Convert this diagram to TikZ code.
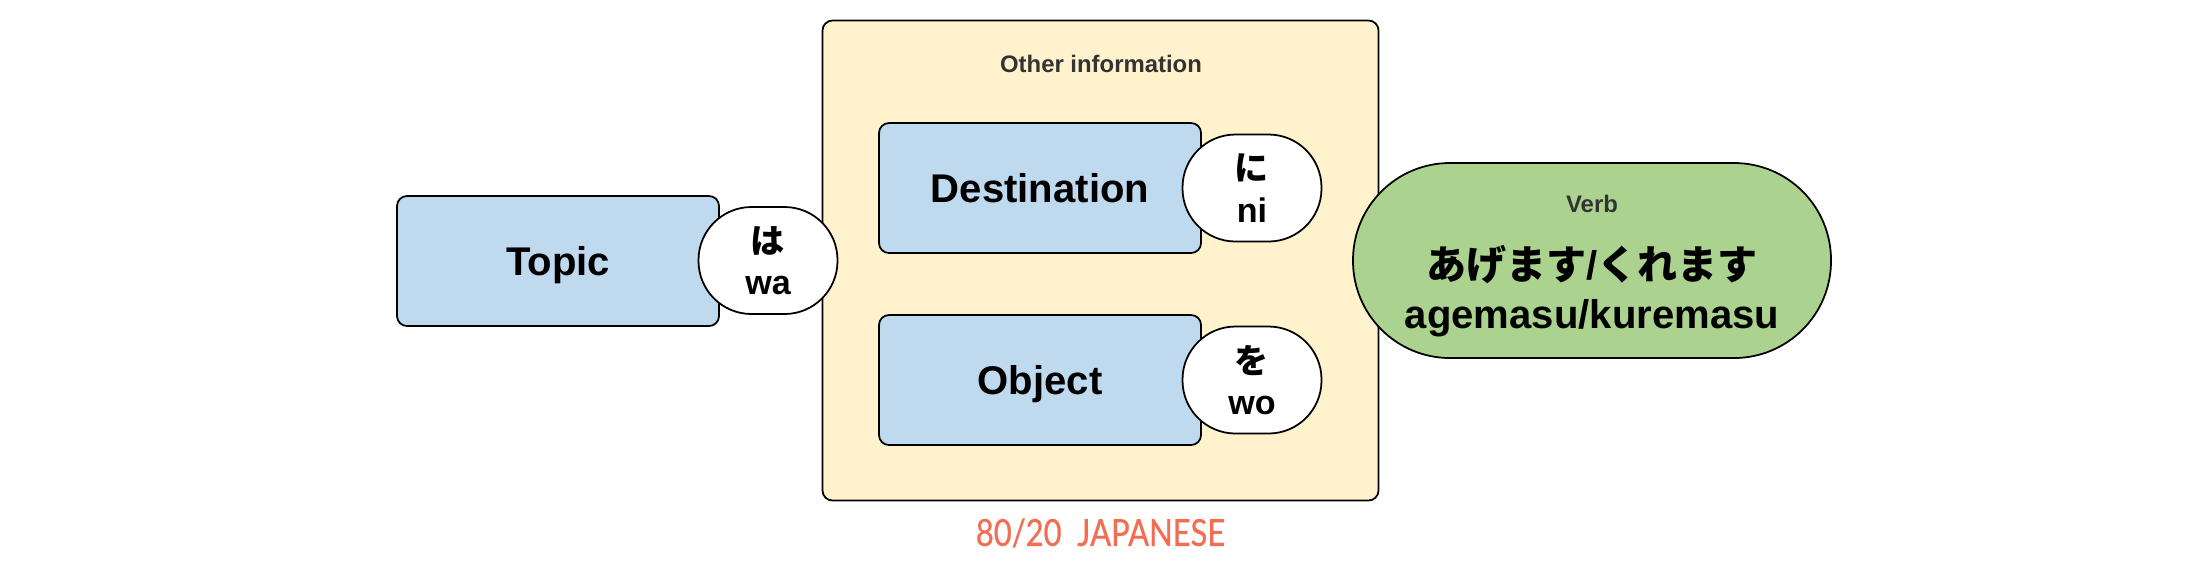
\documentclass[tikz,border=0pt]{standalone}
\usepackage{fontspec}
\setmainfont{Liberation Sans}
\newfontfamily\jpfont{Noto Sans CJK JP}
\newfontfamily\logofont[FakeStretch=0.83,FakeBold=0.6]{Lato}
\usepackage{tikz}

\definecolor{boxblue}{HTML}{BFD9EF}
\definecolor{boxcream}{HTML}{FFF2CC}
\definecolor{pillgreen}{HTML}{ABD38F}
\definecolor{logored}{HTML}{F26D52}
\definecolor{smallgrey}{HTML}{333333}

\tikzset{
  card/.style={draw=black, line width=0.5pt, fill=boxblue, rounded corners=1mm, inner sep=0pt, outer sep=0pt,
    minimum width=32.2mm, minimum height=13mm, text height=8.3pt, text depth=0pt,
    font=\fontsize{11.4pt}{13pt}\selectfont\bfseries},
  particle/.style={draw=black, line width=0.5pt, fill=white, rounded corners=5.3mm, inner sep=0pt, outer sep=0pt,
    minimum width=13.9mm, minimum height=10.7mm, align=center, font=\fontsize{9.7pt}{11.7pt}\selectfont\bfseries},
  small/.style={text=smallgrey, font=\fontsize{6.8pt}{8pt}\selectfont\bfseries, inner sep=0pt}
}

\begin{document}
\begin{tikzpicture}
\useasboundingbox (0,0) rectangle (220mm,-58.2mm);

\node (other) at (110.05mm,-26.05mm) [draw=black, line width=0.5pt, fill=boxcream, rounded corners=1mm,
  inner sep=0pt, minimum width=55.6mm, minimum height=48mm] {};
\node (otherlabel) at (110.1mm,-6.4mm) [small] {Other information};

\node (topic) at (55.8mm,-26.1mm) [card] {Topic};
\node (wa) at (76.8mm,-26.05mm) [particle] {{\jpfont\bfseries は}\\wa};

\foreach \n / \t / \y / \p / \j / \r in {dest/Destination/18.8mm/ni/に/ni,obj/Object/38mm/wo/を/wo}
{
\node (\n) at (104mm,-\y) [card] {\t};
\node (\p) at (125.2mm,-\y) [particle] {{\jpfont\bfseries \j}\\\r};
}

\node (verb) at (159.2mm,-26.05mm) [draw=black, line width=0.5pt, fill=pillgreen, rounded corners=9.7mm,
  inner sep=0pt, minimum width=47.8mm, minimum height=19.5mm, align=center,
  font=\fontsize{11.4pt}{13pt}\selectfont\bfseries]
  {{\fontsize{6.8pt}{8pt}\selectfont\color{smallgrey}\rule{0pt}{2.8mm}Verb}\\[2.2mm]
   {\jpfont\bfseries あげます}/{\jpfont\bfseries くれます}\\[0.3mm]agemasu/kuremasu};

\node (logo) at (110.05mm,-53.3mm) [inner sep=0pt, text=logored,
  font=\logofont\fontsize{10.6pt}{12pt}\selectfont] {80/20\ \ JAPANESE};
\end{tikzpicture}
\end{document}
